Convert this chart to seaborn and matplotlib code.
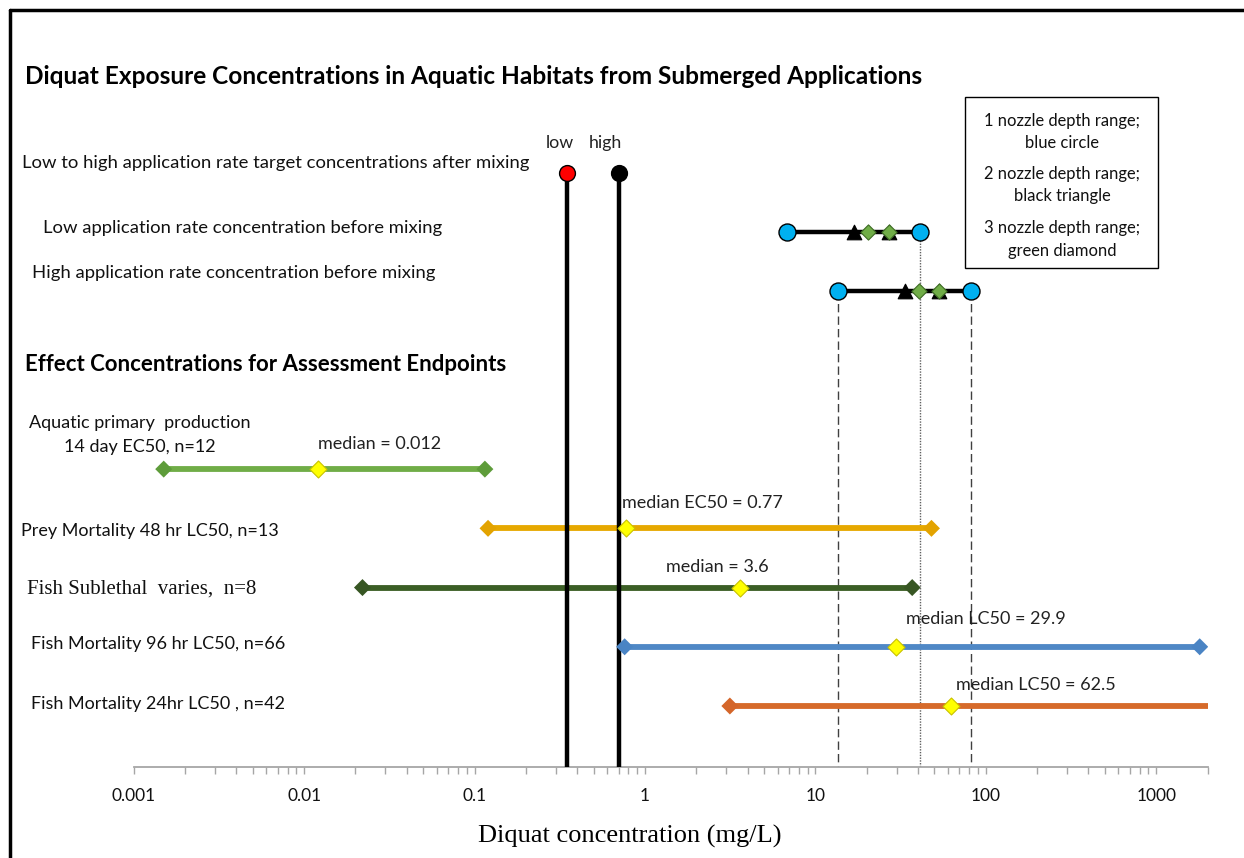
import numpy as np
import pandas as pd
import matplotlib
matplotlib.use("Agg")
import matplotlib.pyplot as plt
import matplotlib.ticker as mticker
from matplotlib.lines import Line2D
from matplotlib.patches import Rectangle
import seaborn as sns

# ---------------- data (mg/L) ----------------
tick_values = [0.001, 0.01, 0.1, 1, 10, 100, 1000]
tick_labels = ["0.001", "0.01", "0.1", "1", "10", "100", "1000"]

target_low = 0.35
target_high = 0.70

low_rate_circle = [6.85, 40.9]
low_rate_triangle = [16.8, 26.9]
low_rate_diamond = [20.3, 26.9]

high_rate_circle = [13.6, 82.2]
high_rate_triangle = [33.4, 53.1]
high_rate_diamond = [40.5, 53.1]

effect_names = ["primary", "prey", "sublethal", "fish96", "fish24"]
effect_min = [0.0015, 0.12, 0.022, 0.76, 3.15]
effect_median = [0.012, 0.77, 3.6, 29.9, 62.5]
effect_max = [0.115, 48.0, 37.0, 1800.0, 2500.0]
median_text = ["median = 0.012", "median EC50 = 0.77", "median = 3.6",
               "median LC50 = 29.9", "median LC50 = 62.5"]

# ---------------- styling / layout ----------------
W, H = 1244, 858
line_colors = ["#70AD47", "#E6A800", "#3B5E25", "#4F88C6", "#D66A2A"]
end_colors = ["#5E9C3A", "#E3A300", "#375623", "#4A84C4", "#D4662A"]
effect_rows = [5, 6, 7, 8, 9]
SANS = "Lato"
SERIF = "Liberation Serif"

sns.set_theme(style="white")
plt.rcParams["font.family"] = [SANS, "DejaVu Sans"]

fig = plt.figure(figsize=(W / 100, H / 100), dpi=100)
ax = fig.add_axes([133.7 / W, 1 - 767 / H, 1073.8 / W, 667 / H])
ax.set_xscale("log")
ax.set_xlim(0.001, 2000)
ax.set_ylim(10.03, -1.233)


def px(x, y):
    return (x / W, 1 - y / H)


# vertical reference lines for target concentrations
ax.vlines([target_low, target_high], 0, 10.03, color="black", lw=3.2, zorder=3)
# drop lines from exposure ranges
ax.vlines(high_rate_circle[0], 2, 10.03, color="#404040", lw=1.0, ls=(0, (6, 3)), zorder=1)
ax.vlines(low_rate_circle[1], 1, 10.03, color="#606060", lw=1.0, ls=(0, (1, 1)), zorder=1)
ax.vlines(high_rate_circle[1], 2, 10.03, color="#404040", lw=1.0, ls=(0, (6, 3)), zorder=1)

# target markers
sns.scatterplot(x=[target_low], y=[0], color="#FF0000", edgecolor="black", linewidth=1,
                s=130, marker="o", ax=ax, zorder=5, legend=False)
sns.scatterplot(x=[target_high], y=[0], color="black", edgecolor="black", linewidth=1,
                s=130, marker="o", ax=ax, zorder=5, legend=False)

# exposure ranges before mixing
for row, circ, tri, dia in [(1, low_rate_circle, low_rate_triangle, low_rate_diamond),
                            (2, high_rate_circle, high_rate_triangle, high_rate_diamond)]:
    seg = pd.DataFrame({"conc": circ, "row": [row, row]})
    sns.lineplot(data=seg, x="conc", y="row", color="black", lw=3.2, ax=ax,
                 estimator=None, sort=False, zorder=3, legend=False)
    sns.scatterplot(x=tri, y=[row] * len(tri), marker="^", color="black", edgecolor="black",
                    s=110, ax=ax, zorder=4, legend=False)
    sns.scatterplot(x=dia, y=[row] * len(dia), marker="D", color="#70AD47", edgecolor="#3E6B25",
                    linewidth=0.8, s=60, ax=ax, zorder=5, legend=False)
    sns.scatterplot(x=circ, y=[row] * len(circ), marker="o", color="#00B0F0", edgecolor="black",
                    linewidth=1, s=150, ax=ax, zorder=6, legend=False)

# effect concentration ranges
eff = pd.DataFrame({
    "endpoint": np.repeat(effect_names, 2),
    "conc": np.ravel(np.column_stack([effect_min, effect_max])),
    "row": np.repeat(effect_rows, 2),
})
sns.lineplot(data=eff, x="conc", y="row", hue="endpoint", palette=dict(zip(effect_names, line_colors)),
             units="endpoint", estimator=None, sort=False, lw=4.2, ax=ax, zorder=2, legend=False)
sns.scatterplot(data=eff, x="conc", y="row", hue="endpoint", palette=dict(zip(effect_names, end_colors)),
                marker="D", s=75, linewidth=0, ax=ax, zorder=3, legend=False)
sns.scatterplot(x=effect_median, y=effect_rows, marker="D", color="#FFFF00", edgecolor="#C9C200",
                linewidth=0.8, s=75, ax=ax, zorder=4, legend=False)

label_offsets = [(0, 25), (-4, 25), (-74, 21), (10, 28), (5, 21)]
for med, row, txt, (dx, dy) in zip(effect_median, effect_rows, median_text, label_offsets):
    ax.annotate(txt, xy=(med, row), xytext=(dx, dy), textcoords="offset pixels",
                ha="left", va="center", fontsize=13, color="#222222", family=SANS)

ax.annotate("low", xy=(target_low, 0), xytext=(-7, 30), textcoords="offset pixels",
            ha="center", va="center", fontsize=12.8, family=SANS, color="#222222")
ax.annotate("high", xy=(target_high, 0), xytext=(-13, 30), textcoords="offset pixels",
            ha="center", va="center", fontsize=12.8, family=SANS, color="#222222")

# axes styling
for side in ["left", "top", "right"]:
    ax.spines[side].set_visible(False)
ax.spines["bottom"].set_color("#A6A6A6")
ax.spines["bottom"].set_linewidth(1.3)
ax.set_yticks([])
ax.xaxis.set_major_locator(mticker.FixedLocator(tick_values))
ax.xaxis.set_major_formatter(mticker.FixedFormatter(tick_labels))
ax.xaxis.set_minor_locator(mticker.LogLocator(base=10, subs=np.arange(2, 10), numticks=20))
ax.xaxis.set_minor_formatter(mticker.NullFormatter())
ax.tick_params(axis="x", which="both", direction="out", length=5, width=1.0,
               color="#A6A6A6", bottom=True)
ax.tick_params(axis="x", which="major", pad=10, labelsize=12.5, labelcolor="#111111")
for lbl in ax.get_xticklabels():
    lbl.set_family(SANS)
ax.set_xlabel("Diquat concentration (mg/L)", family=SERIF, fontsize=19, color="black", va="center")
ax.xaxis.set_label_coords(0.462, -(836 - 767) / 667)
ax.set_ylabel("")
ax.grid(False)


# text labels on the left
def ftext(x, y, s, **kw):
    kw.setdefault("family", SANS)
    kw.setdefault("fontsize", 13)
    kw.setdefault("color", "#111111")
    fig.text(*px(x, y), s, va="center", ha=kw.pop("ha", "left"), **kw)


ftext(25, 76, "Diquat Exposure Concentrations in Aquatic Habitats from Submerged Applications",
      fontsize=17.6, weight="bold", color="black")
ftext(22, 163, "Low to high application rate target concentrations after mixing", fontsize=13.3)
ftext(43, 228, "Low application rate concentration before mixing", fontsize=13.3)
ftext(32, 273, "High application rate concentration before mixing", fontsize=13.3)
ftext(25, 364, "Effect Concentrations for Assessment Endpoints", fontsize=16, weight="bold", color="black")
ftext(29, 423, "Aquatic primary  production")
ftext(140, 447, "14 day EC50, n=12", ha="center")
ftext(21, 531, "Prey Mortality 48 hr LC50, n=13")
ftext(27, 589, "Fish Sublethal  varies,  n=8", family=SERIF, fontsize=15)
ftext(31, 644, "Fish Mortality 96 hr LC50, n=66")
ftext(31, 704, "Fish Mortality 24hr LC50 , n=42")

# legend box for nozzle depth markers
fig.add_artist(Rectangle(px(965, 268), 193 / W, 171 / H, transform=fig.transFigure,
                         fill=False, edgecolor="black", lw=1.0))
for y, s in [(121, "1 nozzle depth range;"), (143, "blue circle"),
             (174, "2 nozzle depth range;"), (196, "black triangle"),
             (228, "3 nozzle depth range;"), (251, "green diamond")]:
    ftext(1062, y, s, ha="center", fontsize=11.9)

# outer frame (top and left edges)
fig.add_artist(Line2D([10 / W, 10 / W], [0, 1 - 10 / H], transform=fig.transFigure,
                      color="black", lw=2.5))
fig.add_artist(Line2D([10 / W, 1], [1 - 10 / H, 1 - 10 / H], transform=fig.transFigure,
                      color="black", lw=2.5))

fig.savefig("out.png", dpi=100, facecolor="white")
